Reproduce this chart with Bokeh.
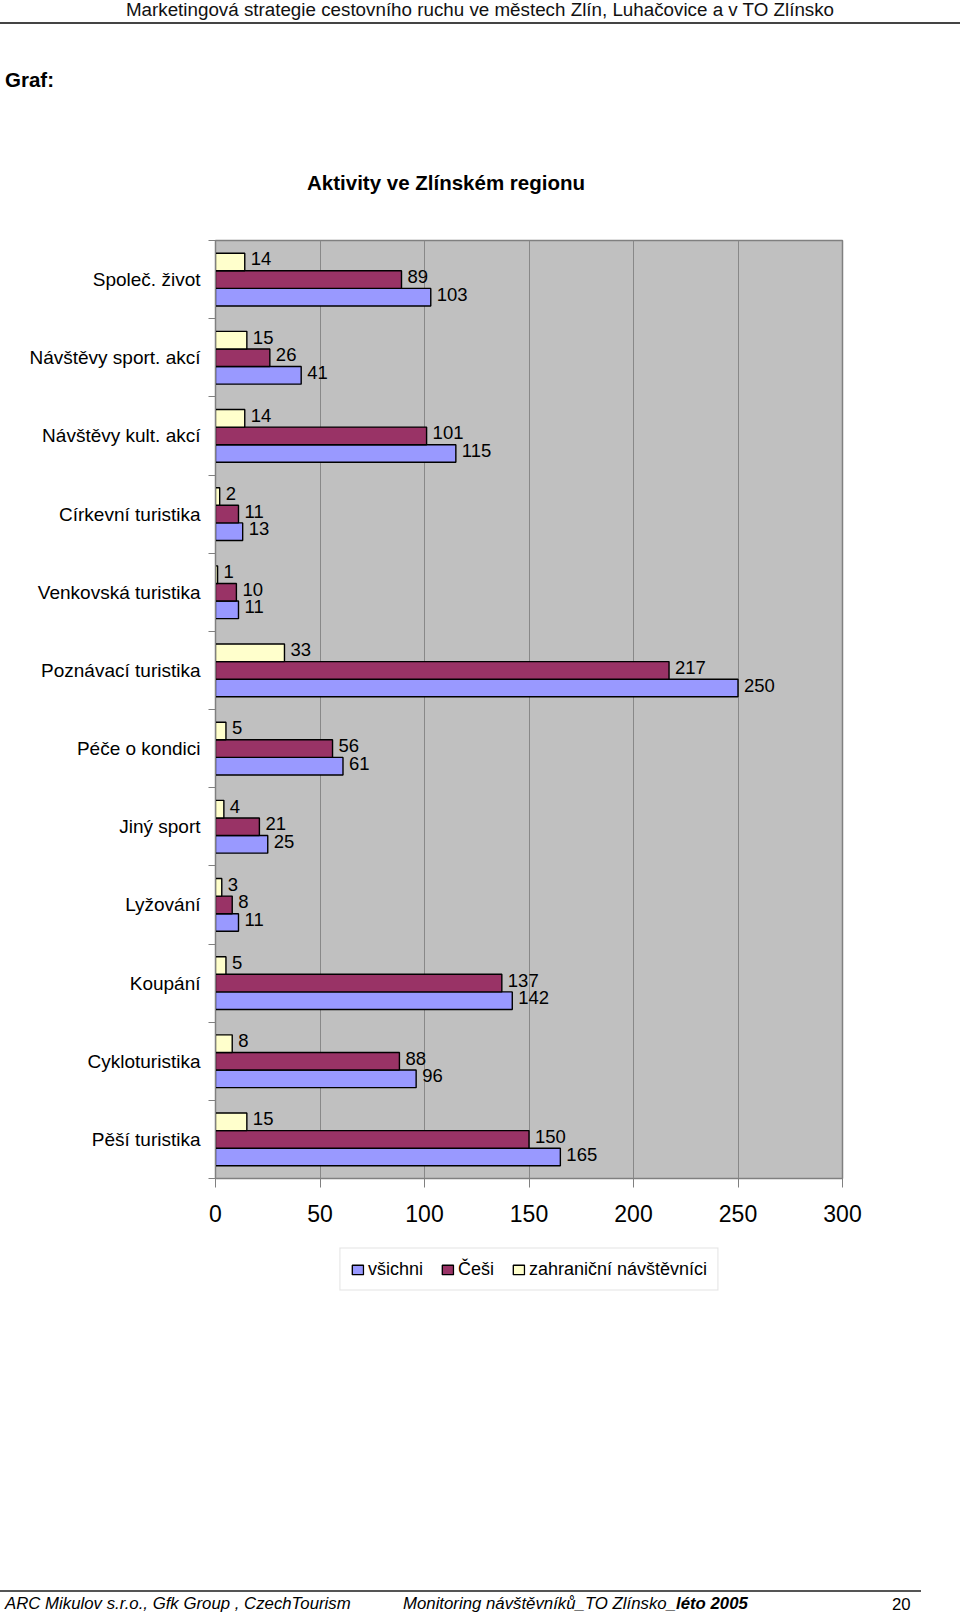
from bokeh.plotting import figure
from bokeh.models import (Range1d, LinearAxis, FixedTicker, Legend, LegendItem, ColumnDataSource, Div)
from bokeh.layouts import column
from bokeh.core.properties import value
from bokeh.embed import file_html
from bokeh.resources import INLINE

# ---------------- data ----------------
categories = ["Společ. život", "Návštěvy sport. akcí", "Návštěvy kult. akcí", "Církevní turistika",
              "Venkovská turistika", "Poznávací turistika", "Péče o kondici", "Jiný sport",
              "Lyžování", "Koupání", "Cykloturistika", "Pěší turistika"]
vsichni = [103, 41, 115, 13, 11, 250, 61, 25, 11, 142, 96, 165]
cesi = [89, 26, 101, 11, 10, 217, 56, 21, 8, 137, 88, 150]
zahranicni = [14, 15, 14, 2, 1, 33, 5, 4, 3, 5, 8, 15]
series_names = ["všichni", "Češi", "zahraniční návštěvníci"]
x_ticks = [0, 50, 100, 150, 200, 250, 300]
colors = ["#9999FF", "#993366", "#FFFFCC"]

FONT = "Liberation Sans"
W = 960
BL, BR = 215, 118          # left / right borders around the plot frame

# ---------------- header (page text) ----------------
H_HDR = 200
hdr_html = f"""
<div style="position:relative;width:{W}px;height:{H_HDR}px;font-family:'{FONT}';color:#000;">
  <div style="position:absolute;left:0;top:0;width:{W}px;text-align:center;font-size:18.8px;line-height:19px;white-space:nowrap;color:#111;">Marketingová strategie cestovního ruchu ve městech Zlín, Luhačovice a v TO Zlínsko</div>
  <div style="position:absolute;left:0;top:22px;width:{W}px;height:2px;background:#444;"></div>
  <div style="position:absolute;left:5px;top:70px;font-size:20.5px;line-height:20px;font-weight:bold;">Graf:</div>
  <div style="position:absolute;left:246px;top:172px;width:400px;text-align:center;font-size:20.5px;line-height:21px;font-weight:bold;white-space:nowrap;">Aktivity ve Zlínském regionu</div>
</div>"""
header = Div(text=hdr_html, width=W, height=H_HDR, margin=0)

# ---------------- main chart ----------------
n = len(categories)
p = figure(width=W, height=40 + 938 + 60, x_range=Range1d(0, 300), y_range=Range1d(0, 2 * n),
           y_axis_location=None, x_axis_location="below",
           min_border_left=BL, min_border_right=BR, min_border_top=40, min_border_bottom=60,
           toolbar_location=None, output_backend="svg", margin=0)
p.background_fill_color = "#C0C0C0"
p.border_fill_color = "white"
p.outline_line_color = "#808080"
p.outline_line_width = 1.5
p.ygrid.visible = False
p.xgrid.ticker = FixedTicker(ticks=x_ticks)
p.xgrid.grid_line_color = "#888888"
p.xgrid.grid_line_width = 1

xa = p.xaxis[0]
xa.ticker = FixedTicker(ticks=x_ticks)
xa.axis_line_color = "#808080"
xa.major_tick_line_color = "#808080"
xa.major_tick_out = 9
xa.major_tick_in = 0
xa.minor_tick_line_color = None
xa.major_label_text_font = FONT
xa.major_label_text_font_size = "23px"
xa.major_label_text_color = "black"
xa.major_label_standoff = 17

# category positions (top category first), doubled units so boundaries are even integers
centers = [2 * (n - i) - 1 for i in range(n)]
bounds = list(range(0, 2 * n + 1, 2))

tick_axis = LinearAxis(ticker=FixedTicker(ticks=bounds),
                       major_tick_out=7, major_tick_in=0, minor_tick_line_color=None,
                       major_label_text_font_size="0px", major_label_standoff=0,
                       axis_line_color="#808080", major_tick_line_color="#808080",
                       major_label_overrides={b: "" for b in bounds})
p.add_layout(tick_axis, "left")
cat_axis = LinearAxis(ticker=FixedTicker(ticks=centers),
                      major_tick_line_color=None, axis_line_color=None, minor_tick_line_color=None,
                      major_label_standoff=2, major_label_text_font=FONT,
                      major_label_text_font_size="19px", major_label_text_color="black",
                      major_label_overrides={c: name for c, name in zip(centers, categories)})
p.add_layout(cat_axis, "left")

series = [vsichni, cesi, zahranicni]
offsets = [-0.45, 0.0, 0.45]
sources = []
for vals, col, off in zip(series, colors, offsets):
    src = ColumnDataSource(dict(y=[c + off for c in centers], v=vals, lbl=[str(v) for v in vals]))
    sources.append(src)
    p.hbar(y="y", right="v", left=0, height=0.45,
           fill_color=col, line_color="black", line_width=1.4, source=src)
    p.text(x="v", y="y", text="lbl", source=src,
           x_offset=6, y_offset=-3, text_baseline="middle", text_align="left",
           text_font=value(FONT), text_font_size="18.5px", text_color="black")

# ---------------- legend strip ----------------
# The same series feed the legend; the view is chosen so that these bars fall entirely
# behind the opaque legend box (legends are drawn above glyphs), so none of them shows.
lg = figure(width=W, height=62, x_range=Range1d(-120, 430), y_range=Range1d(-14, 46),
            x_axis_location=None, y_axis_location=None,
            min_border_left=BL, min_border_right=BR, min_border_top=0, min_border_bottom=0,
            toolbar_location=None, output_backend="svg", margin=0)
lg.grid.visible = False
lg.outline_line_color = None
lg.background_fill_color = "white"
lg.border_fill_color = "white"
items = []
for nm, col, src in zip(series_names, colors, sources):
    r = lg.hbar(y="y", right="v", left=0, height=0.45, fill_color=col, line_color="black",
                line_width=1.4, source=src)
    items.append(LegendItem(label=nm, renderers=[r]))
legend = Legend(items=items, orientation="horizontal", location="center",
                glyph_width=14, glyph_height=12, label_standoff=4, spacing=17,
                padding=10, margin=0, label_height=16,
                label_text_font=FONT, label_text_font_size="18px", label_text_color="black",
                border_line_color="#c8c8c8", border_line_width=1,
                background_fill_color="white", background_fill_alpha=1)
lg.add_layout(legend, "center")

# ---------------- footer (page text) ----------------
H_FTR = 1613 - H_HDR - (40 + 938 + 60) - 62
ftr_html = f"""
<div style="position:relative;width:{W}px;height:{H_FTR}px;font-family:'{FONT}';color:#000;">
  <div style="position:absolute;left:0;top:{1590 - 1300}px;width:921px;height:2px;background:#555;"></div>
  <div style="position:absolute;left:5px;top:{1595 - 1300}px;font-size:16.8px;line-height:17px;font-style:italic;white-space:nowrap;">ARC Mikulov s.r.o., Gfk Group , CzechTourism</div>
  <div style="position:absolute;left:403px;top:{1595 - 1300}px;font-size:16.8px;line-height:17px;font-style:italic;white-space:nowrap;">Monitoring návštěvníků_TO Zlínsko_<b>léto 2005</b></div>
  <div style="position:absolute;left:892px;top:{1596 - 1300}px;font-size:16.8px;line-height:17px;white-space:nowrap;">20</div>
</div>"""
footer = Div(text=ftr_html, width=W, height=H_FTR, margin=0)

layout = column(header, p, lg, footer, spacing=0)
open("out.html", "w").write(file_html(layout, INLINE))
